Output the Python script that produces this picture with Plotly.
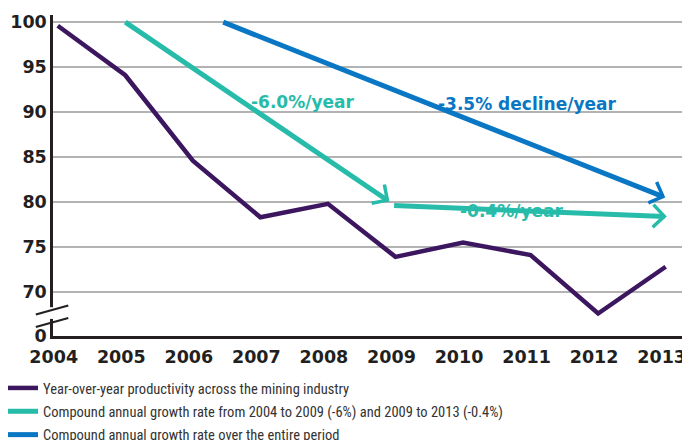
import math
import plotly.graph_objects as go

# ---- data ----
years = [2004, 2005, 2006, 2007, 2008, 2009, 2010, 2011, 2012, 2013]
productivity = [99.6, 94.1, 84.6, 78.3, 79.8, 73.9, 75.5, 74.1, 67.6, 72.8]

cagr_early_x = [2005.0, 2008.88]
cagr_early_y = [100.0, 80.2]
cagr_late_x = [2008.98, 2012.98]
cagr_late_y = [79.6, 78.4]
cagr_all_x = [2006.45, 2012.96]
cagr_all_y = [100.0, 80.6]

ytick_vals = [65.1, 70, 75, 80, 85, 90, 95, 100]
ytick_text = ["0", "70", "75", "80", "85", "90", "95", "100"]

labels = ["-6.0%/year", "-3.5% decline/year", "-0.4%/year"]
label_x = [2007.62, 2010.94, 2010.72]
label_y = [91.1, 90.9, 79.0]

names = [
    "Year-over-year productivity across the mining industry",
    "Compound annual growth rate from 2004 to 2009 (-6%) and 2009 to 2013 (-0.4%)",
    "Compound annual growth rate over the entire period",
]

PURPLE = "#3c1760"
TEAL = "#27bba9"
BLUE = "#0a77c4"
INK = "#231f20"

# page body has an 8px margin; figure is sized to fill the rest of the window
W, H = 682, 432
ML, MR, MT, MB = 45, 0, 7, 104
XR = [2003.93, 2013.36]
YR = [65.1, 100.8]
PW, PH = W - ML - MR, H - MT - MB
pxx = PW / (XR[1] - XR[0])
pxy = PH / (YR[1] - YR[0])

TICKFONT = dict(family="DejaVu Sans", size=17.5, color=INK, weight="bold")


def chevron(xs, ys, arm=16, ang=45):
    """Open arrow head at end of segment, computed in pixel space."""
    dx = (xs[-1] - xs[-2]) * pxx
    dy = (ys[-1] - ys[-2]) * pxy
    th = math.atan2(dy, dx)
    out_x, out_y = [], []
    for s in (1, -1):
        a = th + math.pi + s * math.radians(ang)
        out_x.append(xs[-1] + arm * math.cos(a) / pxx)
        out_y.append(ys[-1] + arm * math.sin(a) / pxy)
    return [out_x[0], xs[-1], out_x[1]], [out_y[0], ys[-1], out_y[1]]


fig = go.Figure()

fig.add_trace(go.Scatter(x=years, y=productivity, mode="lines", name=names[0],
                         line=dict(color=PURPLE, width=4.5), legendgroup="a", legendrank=1))
fig.add_trace(go.Scatter(x=cagr_early_x, y=cagr_early_y, mode="lines", name=names[1],
                         line=dict(color=TEAL, width=5), legendgroup="b", legendrank=2))
fig.add_trace(go.Scatter(x=cagr_late_x, y=cagr_late_y, mode="lines", name=names[1],
                         line=dict(color=TEAL, width=5), legendgroup="b", showlegend=False))
fig.add_trace(go.Scatter(x=cagr_all_x, y=cagr_all_y, mode="lines", name=names[2],
                         line=dict(color=BLUE, width=5), legendgroup="c", legendrank=3))

for xs, ys, col in [(cagr_early_x, cagr_early_y, TEAL), (cagr_late_x, cagr_late_y, TEAL),
                    (cagr_all_x, cagr_all_y, BLUE)]:
    hx, hy = chevron(xs, ys)
    fig.add_trace(go.Scatter(x=hx, y=hy, mode="lines", showlegend=False,
                             line=dict(color=col, width=3.5)))

for t, x, y, c in zip(labels, label_x, label_y, [TEAL, BLUE, TEAL]):
    fig.add_annotation(x=x, y=y, text=t, showarrow=False,
                       font=dict(family="DejaVu Sans", size=17, color=c, weight="bold"))

# axis break marks
fig.add_shape(type="rect", xref="paper", yref="y", x0=-0.012, x1=0.012, y0=67.0, y1=68.3,
              fillcolor="white", line=dict(width=0), layer="above")
for y0 in (66.1, 67.5):
    fig.add_shape(type="line", xref="paper", yref="y", x0=-0.027, x1=0.024,
                  y0=y0, y1=y0 + 1.0, line=dict(color=INK, width=2), layer="above")

fig.update_layout(
    width=W, height=H,
    margin=dict(l=ML, r=MR, t=MT, b=MB, autoexpand=False),
    plot_bgcolor="white", paper_bgcolor="white",
    showlegend=True,
    legend=dict(x=(-5 - ML) / PW, y=-36 / PH,
                xanchor="left", yanchor="top", bgcolor="rgba(0,0,0,0)",
                font=dict(family="Liberation Sans Narrow, Roboto Condensed, Arial Narrow, sans-serif",
                          size=14.5, color="#333333"),
                tracegroupgap=1.5, itemwidth=30),
    xaxis=dict(range=XR, tickvals=years, ticktext=[str(y) for y in years],
               showgrid=False, zeroline=False, showline=True, linecolor=INK, linewidth=2.5,
               ticks="", ticklabelstandoff=3, ticklabelshift=-4, tickfont=TICKFONT),
    yaxis=dict(range=YR, tickvals=ytick_vals, ticktext=ytick_text,
               showgrid=True, gridcolor="#b3b3b3", gridwidth=1.5, zeroline=False,
               showline=True, linecolor=INK, linewidth=2.5, ticks="", ticklabelstandoff=0,
               tickfont=TICKFONT),
)

fig.write_html("out.html")
